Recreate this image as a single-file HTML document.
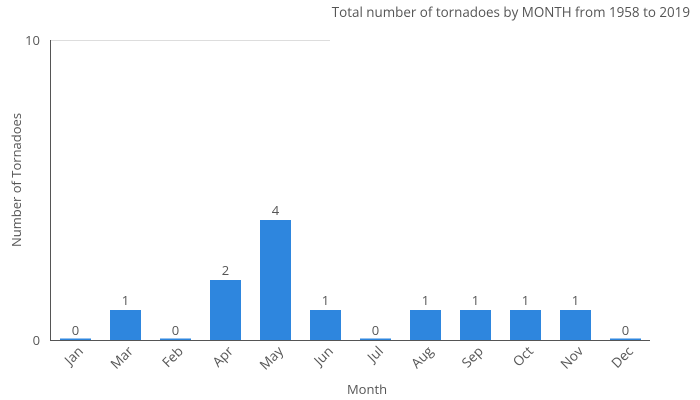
<!DOCTYPE html>
<html><head><style>body{margin:0;background:#fff}svg{display:block;font-family:"Open Sans","Liberation Sans",sans-serif}</style></head><body>
<svg width="700" height="400" xmlns="http://www.w3.org/2000/svg">
<text x="690" y="17" text-anchor="end" font-size="13.4" fill="#555">Total number of tornadoes by MONTH from 1958 to 2019</text>
<line x1="50" y1="40.5" x2="330" y2="40.5" stroke="#ddd"/>
<g fill="#2e86de">
<rect x="60" y="338.5" width="31" height="2"/>
<rect x="110" y="310" width="31" height="30"/>
<rect x="160" y="338.5" width="31" height="2"/>
<rect x="210" y="280" width="31" height="60"/>
<rect x="260" y="220" width="31" height="120"/>
<rect x="310" y="310" width="31" height="30"/>
<rect x="360" y="338.5" width="31" height="2"/>
<rect x="410" y="310" width="31" height="30"/>
<rect x="460" y="310" width="31" height="30"/>
<rect x="510" y="310" width="31" height="30"/>
<rect x="560" y="310" width="31" height="30"/>
<rect x="610" y="338.5" width="31" height="2"/>
</g>
<g font-size="13" fill="#555" text-anchor="middle">
<text x="75.5" y="335">0</text><text x="125.5" y="305">1</text><text x="175.5" y="335">0</text>
<text x="225.5" y="275">2</text><text x="275.5" y="215">4</text><text x="325.5" y="305">1</text>
<text x="375.5" y="335">0</text><text x="425.5" y="305">1</text><text x="475.5" y="305">1</text>
<text x="525.5" y="305">1</text><text x="575.5" y="305">1</text><text x="625.5" y="335">0</text>
</g>
<line x1="50.5" y1="40" x2="50.5" y2="340.5" stroke="#555"/>
<line x1="50" y1="340.5" x2="650" y2="340.5" stroke="#555"/>
<g font-size="13" fill="#555" text-anchor="end">
<text x="40" y="45">10</text><text x="40" y="345">0</text>
</g>
<g font-size="13.5" fill="#555" text-anchor="end">
<text transform="translate(84,352) rotate(-45)">Jan</text>
<text transform="translate(134,352) rotate(-45)">Mar</text>
<text transform="translate(184,352) rotate(-45)">Feb</text>
<text transform="translate(234,352) rotate(-45)">Apr</text>
<text transform="translate(284,352) rotate(-45)">May</text>
<text transform="translate(334,352) rotate(-45)">Jun</text>
<text transform="translate(384,352) rotate(-45)">Jul</text>
<text transform="translate(434,352) rotate(-45)">Aug</text>
<text transform="translate(484,352) rotate(-45)">Sep</text>
<text transform="translate(534,352) rotate(-45)">Oct</text>
<text transform="translate(584,352) rotate(-45)">Nov</text>
<text transform="translate(634,352) rotate(-45)">Dec</text>
</g>
<text x="367" y="394" font-size="13" fill="#555" text-anchor="middle">Month</text>
<text transform="translate(21,180) rotate(-90)" font-size="13" fill="#555" text-anchor="middle">Number of Tornadoes</text>
</svg>
</body></html>
